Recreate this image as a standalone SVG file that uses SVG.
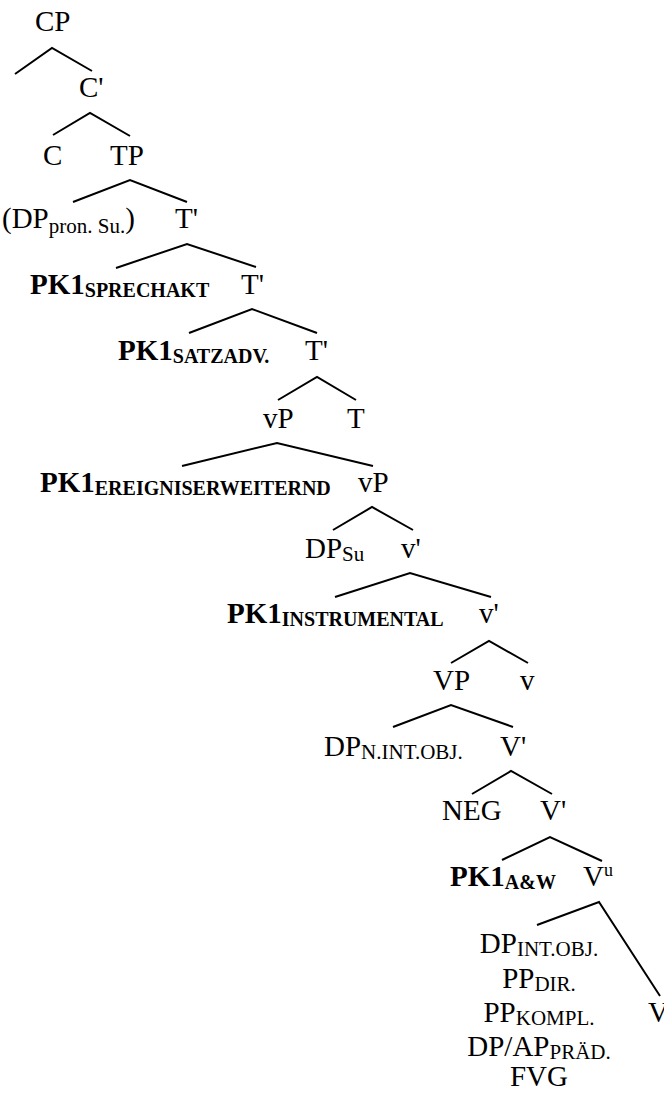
<svg xmlns="http://www.w3.org/2000/svg" width="664" height="1093" viewBox="0 0 664 1093">
  <style>
    text { font-family: "Liberation Serif", "Times New Roman", serif; font-size: 29px; fill: #000; }
    .b { font-weight: bold; }
    .sub { font-size: 21px; font-weight: normal; }
    .subb { font-size: 20px; font-weight: bold; }
    .sup { font-size: 18px; }
    .mid { text-anchor: middle; }
    #edges polyline { fill: none; stroke: #000; stroke-width: 2; stroke-linejoin: miter; }
  </style>
  <rect width="664" height="1093" fill="#fff"/>

  <!-- branches: left child, mother, right child -->
  <g id="edges">
    <polyline points="15,74 52,48 92,71"/>
    <polyline points="53,135 90,113 130,136"/>
    <polyline points="73,202 130,180 187,202"/>
    <polyline points="116,268 187,244 256,267"/>
    <polyline points="189,333 252,309 317,333"/>
    <polyline points="278,400 317,377 356,400"/>
    <polyline points="182,466 277,443 373,466"/>
    <polyline points="333,530 372,507 413,530"/>
    <polyline points="335,597 410,573 491,597"/>
    <polyline points="451,663 489,641 528,663"/>
    <polyline points="393,727 451,705 513,727"/>
    <polyline points="472,794 511,771 552,794"/>
    <polyline points="502,860 550,837 602,861"/>
    <polyline points="537,925 599,902 660,996"/>
  </g>

  <g id="n-cp"><text x="35" y="31">CP</text></g>
  <g id="n-cbar"><text x="79" y="97">C'</text></g>
  <g id="n-c"><text x="43" y="165">C</text></g>
  <g id="n-tp"><text x="110" y="165">TP</text></g>
  <g id="n-dp-pron"><text x="2" y="228">(DP<tspan class="sub" dy="5">pron. Su.</tspan><tspan dy="-5">)</tspan></text></g>
  <g id="n-tbar1"><text x="175" y="228">T'</text></g>
  <g id="n-pk1-sprechakt"><text x="30" y="294" class="b">PK1<tspan class="subb" dy="3">SPRECHAKT</tspan></text></g>
  <g id="n-tbar2"><text x="241" y="294">T'</text></g>
  <g id="n-pk1-satzadv"><text x="118" y="360" class="b">PK1<tspan class="subb" dy="3">SATZADV.</tspan></text></g>
  <g id="n-tbar3"><text x="305" y="360">T'</text></g>
  <g id="n-vp1"><text x="263" y="428">vP</text></g>
  <g id="n-t"><text x="347" y="428">T</text></g>
  <g id="n-pk1-ereign"><text x="40" y="492" class="b">PK1<tspan class="subb" dy="3">EREIGNISERWEITERND</tspan></text></g>
  <g id="n-vp2"><text x="358" y="492">vP</text></g>
  <g id="n-dp-su"><text x="305" y="558">DP<tspan class="sub" dy="3">Su</tspan></text></g>
  <g id="n-vbar1"><text x="401" y="558">v'</text></g>
  <g id="n-pk1-instr"><text x="227" y="623" class="b">PK1<tspan class="subb" dy="3">INSTRUMENTAL</tspan></text></g>
  <g id="n-vbar2"><text x="479" y="623">v'</text></g>
  <g id="n-vp-big"><text x="433" y="690">VP</text></g>
  <g id="n-v-small"><text x="520" y="690">v</text></g>
  <g id="n-dp-nintobj"><text x="324" y="756">DP<tspan class="sub" dy="3">N.INT.OBJ.</tspan></text></g>
  <g id="n-vbar3"><text x="500" y="756">V'</text></g>
  <g id="n-neg"><text x="442" y="820">NEG</text></g>
  <g id="n-vbar4"><text x="540" y="820">V'</text></g>
  <g id="n-pk1-aw"><text x="450" y="886" class="b">PK1<tspan class="subb" dy="3">A&amp;W</tspan></text></g>
  <g id="n-vu"><text x="583" y="886">V<tspan class="sup" dy="-10">u</tspan></text></g>
  <g id="n-complements">
    <text x="539" y="953" class="mid">DP<tspan class="sub" dy="3">INT.OBJ.</tspan></text>
    <text x="539" y="988" class="mid">PP<tspan class="sub" dy="3">DIR.</tspan></text>
    <text x="539" y="1022" class="mid">PP<tspan class="sub" dy="3">KOMPL.</tspan></text>
    <text x="539" y="1056" class="mid">DP/AP<tspan class="sub" dy="3">PRÄD.</tspan></text>
    <text x="539" y="1086" class="mid">FVG</text>
  </g>
  <g id="n-v-final"><text x="648" y="1022">V</text></g>
</svg>
